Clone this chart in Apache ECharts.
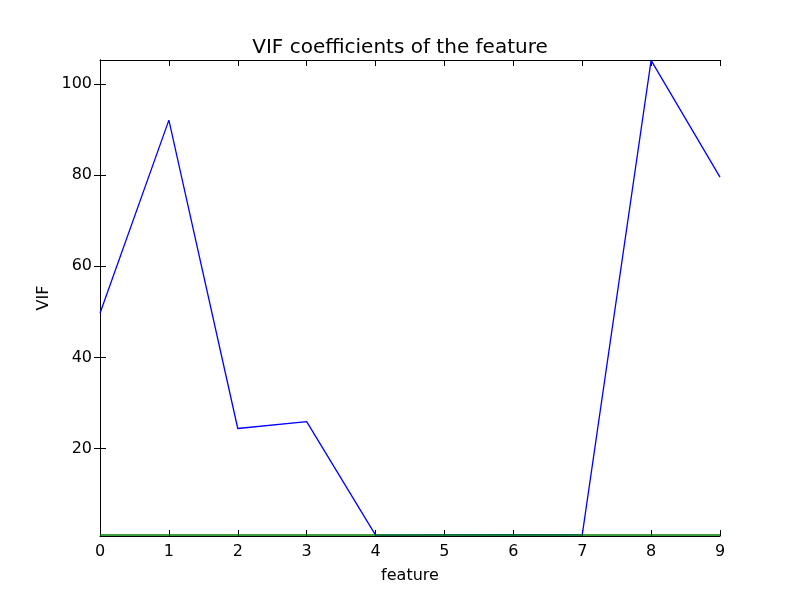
<!DOCTYPE html>
<html>
<head>
<meta charset="utf-8">
<script src="https://cdn.jsdelivr.net/npm/echarts@6/dist/echarts.min.js"></script>
<style>
  html, body { margin: 0; padding: 0; background: #fff; }
  #main { width: 800px; height: 595px; }
</style>
</head>
<body>
<div id="main"></div>
<script>
var chart = echarts.init(document.getElementById('main'));

// feature index 0..9
var features = [0, 1, 2, 3, 4, 5, 6, 7, 8, 9];
// VIF per feature (blue line)
var vifValues = [49.7, 92.1, 24.4, 25.9, 1.0, 1.05, 1.1, 1.05, 105.2, 79.6];
// second line (green), sits on the floor
var baseValues = [1.0, 1.0, 1.0, 1.0, 1.0, 1.0, 1.0, 1.0, 1.0, 1.0];
var yTicks = [20, 40, 60, 80, 100];

var fontFam = 'DejaVu Sans';

function pairs(vals) {
    var res = [];
    for (var i = 0; i < features.length; i++) {
        res.push([features[i], vals[i]]);
    }
    return res;
}

var lineAxis = { show: true, lineStyle: { color: '#000', width: 1 } };

var option = {
    animation: false,
    backgroundColor: '#fff',
    title: {
        text: 'VIF coefficients of the feature',
        left: 'center',
        top: 33,
        textStyle: { fontFamily: fontFam, fontSize: 20, fontWeight: 'normal', color: '#000' }
    },
    grid: { left: 100, right: 80, top: 60, bottom: 59 },
    xAxis: [{
        type: 'value',
        min: 0, max: 9, interval: 1,
        position: 'bottom',
        name: 'feature',
        nameLocation: 'middle',
        nameGap: 32,
        nameMoveOverlap: false,
        nameTextStyle: { fontFamily: fontFam, fontSize: 16, color: '#000' },
        axisLine: lineAxis,
        axisTick: { inside: true, length: 6, lineStyle: { color: '#000' } },
        axisLabel: { fontFamily: fontFam, fontSize: 16, color: '#000', margin: 8 },
        splitLine: { show: false }
    }, {
        type: 'value',
        min: 0, max: 9, interval: 1,
        position: 'top',
        axisLine: lineAxis,
        axisTick: { inside: true, length: 6, lineStyle: { color: '#000' } },
        axisLabel: { show: false },
        splitLine: { show: false }
    }],
    yAxis: [{
        type: 'value',
        min: 0.8, max: 105.3,
        position: 'left',
        name: 'VIF',
        nameLocation: 'middle',
        nameGap: 48,
        nameMoveOverlap: false,
        nameTextStyle: { fontFamily: fontFam, fontSize: 16, color: '#000' },
        axisLine: lineAxis,
        axisTick: { inside: true, length: 6, lineStyle: { color: '#000' }, customValues: yTicks },
        axisLabel: { fontFamily: fontFam, fontSize: 16, color: '#000', margin: 8, customValues: yTicks },
        splitLine: { show: false }
    }, {
        type: 'value',
        min: 0.8, max: 105.3,
        position: 'right',
        axisLine: lineAxis,
        axisTick: { inside: true, length: 6, lineStyle: { color: '#000' }, customValues: yTicks },
        axisLabel: { show: false, customValues: yTicks },
        splitLine: { show: false }
    }],
    series: [{
        name: 'VIF',
        type: 'line',
        data: pairs(vifValues),
        showSymbol: false,
        lineStyle: { color: '#0000ff', width: 1.3 },
        itemStyle: { color: '#0000ff' },
        z: 2
    }, {
        name: 'base',
        type: 'line',
        data: pairs(baseValues),
        showSymbol: false,
        lineStyle: { color: '#008000', width: 1.5 },
        itemStyle: { color: '#008000' },
        z: 3
    }]
};

chart.setOption(option);
</script>
</body>
</html>
